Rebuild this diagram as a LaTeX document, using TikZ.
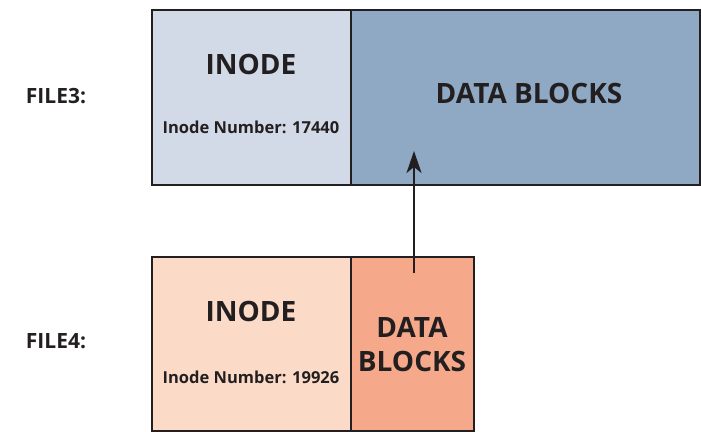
\documentclass[tikz,border=0pt]{standalone}
\usepackage{fontspec}
\setmainfont{Open Sans}
\usetikzlibrary{arrows.meta}
\definecolor{inodeblue}{HTML}{D1DAE6}
\definecolor{datablue}{HTML}{8FA8C4}
\definecolor{inodepeach}{HTML}{FCDAC8}
\definecolor{datapeach}{HTML}{F5A98A}
\definecolor{ink}{HTML}{231F20}
\tikzset{
  cell/.style={draw=ink, line width=1.6pt, inner sep=0pt, anchor=north west},
  title/.style={font=\bfseries\fontsize{28}{30}\selectfont, text=ink},
  small/.style={font=\bfseries\fontsize{16.5}{19}\selectfont, text=ink},
  filelabel/.style={font=\bfseries\fontsize{21}{24}\selectfont, text=ink},
  link/.style={draw=ink, line width=2.4pt, -{Stealth[length=22pt, width=15pt, inset=6pt]}}
}
\begin{document}
\begin{tikzpicture}[x=1pt, y=-1pt]
  \useasboundingbox (0,0) rectangle (701,431);
  % FILE3: inode and data blocks
  \node[cell, fill=inodeblue, minimum width=199pt, minimum height=175pt] (i3) at (151,9) {};
  \node[cell, fill=datablue, minimum width=349pt, minimum height=175pt] (d3) at (350,9) {};
  % FILE4: inode and data blocks
  \node[cell, fill=inodepeach, minimum width=199pt, minimum height=174pt] (i4) at (151,256) {};
  \node[cell, fill=datapeach, minimum width=123pt, minimum height=174pt] (d4) at (350,256) {};
  % texts
  \node[filelabel] (f3) at (56,96) {FILE3:};
  \node[filelabel] (f4) at (56,341) {FILE4:};
  \node[title] (t3) at (251,64) {INODE};
  \node[small] (n3) at (251,127) {Inode Number: 17440};
  \node[title] (b3) at (529,93) {DATA BLOCKS};
  \node[title] (t4) at (251,311) {INODE};
  \node[small] (n4) at (251,377) {Inode Number: 19926};
  \node[title, align=center, font=\bfseries\fontsize{28}{34}\selectfont] (b4) at (412,345) {DATA\\BLOCKS};
  % shared data blocks
  \coordinate (s) at (414,273);
  \coordinate (e) at (414,151);
  \draw[link] (s) -- (e);
\end{tikzpicture}
\end{document}
